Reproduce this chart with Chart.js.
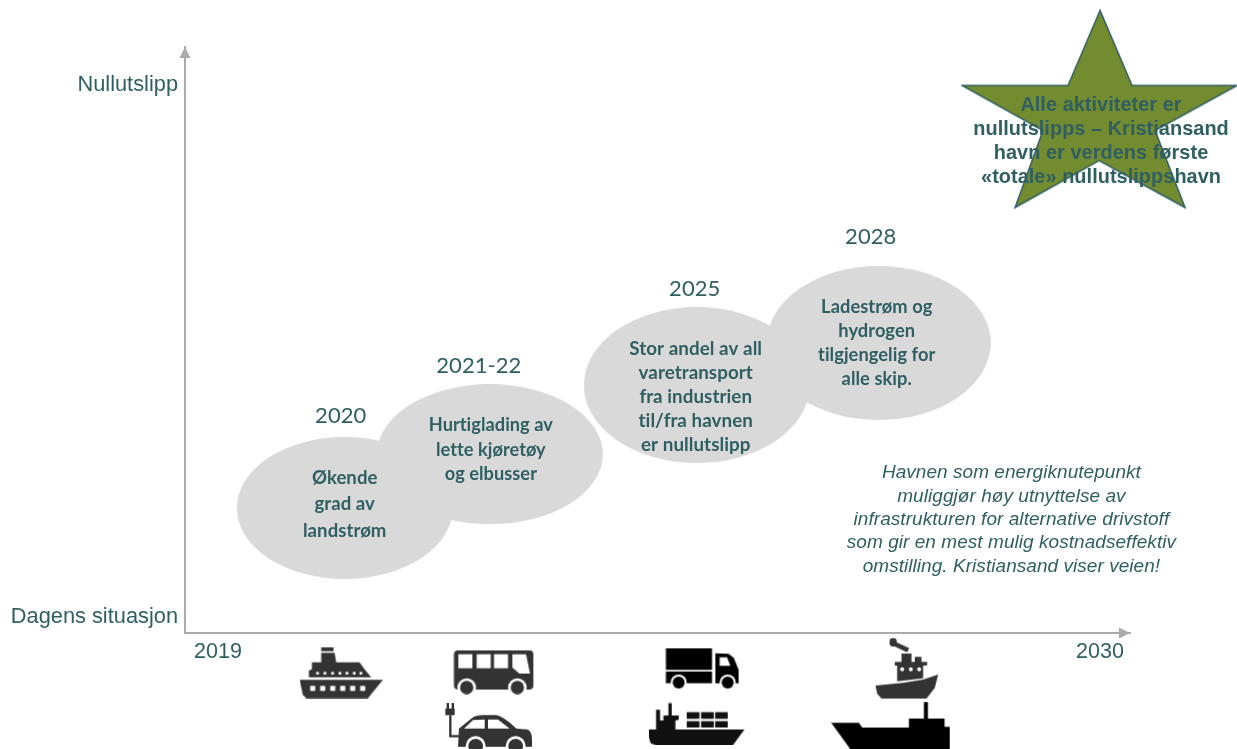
<!DOCTYPE html>
<html>
<head>
<meta charset="utf-8">
<title>Nullutslipp</title>
<script src="https://cdn.jsdelivr.net/npm/chart.js@4"></script>
<style>
  html, body { margin: 0; padding: 0; background: #fff; }
  canvas { display: block; }
</style>
</head>
<body>
<canvas id="roadmap" width="1237" height="749"></canvas>
<script>
// axis values
const tickYears = [2019, 2030];
const tickLevels = [0, 100];
const levelNames = ['Dagens situasjon', 'Nullutslipp'];

// the four steps on the way
const phaseNames = ['2020', '2021-22', '2025', '2028'];
const phaseYears = [2020.58, 2022.39, 2024.97, 2027.24];
const phaseLevels = [20.5, 30.6, 43.6, 51.5];
const phaseTexts = [
  ['Økende', 'grad av', 'landstrøm'],
  ['Hurtiglading av', 'lette kjøretøy', 'og elbusser'],
  ['Stor andel av all', 'varetransport', 'fra industrien', 'til/fra havnen', 'er nullutslipp'],
  ['Ladestrøm og', 'hydrogen', 'tilgjengelig for', 'alle skip.']
];

// the goal star
const goalYears = [2030];
const goalLevels = [95.4];
const goalText = ['Alle aktiviteter er', 'nullutslipps – Kristiansand', 'havn er verdens første', '«totale» nullutslippshavn'];

const noteText = [
  'Havnen som energiknutepunkt',
  'muliggjør høy utnyttelse av',
  'infrastrukturen for alternative drivstoff',
  'som gir en mest mulig kostnadseffektiv',
  'omstilling. Kristiansand viser veien!'
];

// vehicles under the time axis
const iconNames = ['ferry', 'bus', 'car', 'truck', 'container', 'tug', 'tanker'];
const iconYears = [2020.54, 2022.44, 2022.36, 2025.04, 2024.97, 2027.59, 2027.39];
const iconLevels = [-10.43, -10.34, -21.1, -9.68, -20.1, -9.68, -20.3];

const TEAL = '#2f5f62';
const GREY = '#ababab';

function offscreen(w, h) {
  const c = document.createElement('canvas');
  c.width = Math.round(w);
  c.height = Math.round(h);
  return c;
}

function ellipseStyle(rx, ry) {
  const c = offscreen(rx * 2, ry * 2);
  const g = c.getContext('2d');
  g.fillStyle = '#d9d9d9';
  g.beginPath();
  g.ellipse(rx, ry, rx, ry, 0, 0, Math.PI * 2);
  g.fill();
  return c;
}

function starStyle() {
  const c = offscreen(278, 200);
  const g = c.getContext('2d');
  const pts = [[139, 1], [107, 76], [1, 76], [82, 121], [54, 198], [138, 151], [224, 198], [194, 121], [276, 76], [171, 76]];
  g.beginPath();
  pts.forEach((p, i) => i ? g.lineTo(p[0], p[1]) : g.moveTo(p[0], p[1]));
  g.closePath();
  g.fillStyle = '#738c2f';
  g.fill();
  g.lineWidth = 1.5;
  g.strokeStyle = TEAL;
  g.stroke();
  return c;
}

function poly(g, pts, color) {
  g.fillStyle = color;
  g.beginPath();
  pts.forEach((p, i) => i ? g.lineTo(p[0], p[1]) : g.moveTo(p[0], p[1]));
  g.closePath();
  g.fill();
}
function wheel(g, x, y, r1, r2, color) {
  g.fillStyle = '#fff';
  g.beginPath(); g.arc(x, y, r1, 0, Math.PI * 2); g.fill();
  g.fillStyle = color;
  g.beginPath(); g.arc(x, y, r2, 0, Math.PI * 2); g.fill();
}

// icon shapes are sketched on a 3x grid, then shrunk
function iconStyle(x0, y0, x1, y1, draw) {
  const c = offscreen((x1 - x0) / 3, (y1 - y0) / 3);
  const g = c.getContext('2d');
  g.filter = 'blur(0.5px)';
  g.scale(1 / 3, 1 / 3);
  g.translate(-x0, -y0);
  draw(g);
  return c;
}

const ICONS = {
  ferry: iconStyle(60, 50, 311, 206, g => {
    const d = '#333';
    g.fillStyle = d;
    g.fillRect(125, 52, 37, 12);
    poly(g, [[125, 69], [165, 69], [170, 97], [240, 97], [255, 118], [275, 142], [88, 142], [88, 122], [97, 118], [97, 97], [125, 97]], d);
    poly(g, [[60, 150], [310, 150], [265, 205], [80, 205], [70, 195]], d);
    g.fillStyle = '#fff';
    [110, 132, 155, 177, 198, 220, 240].forEach(x => g.fillRect(x, 126, 8, 8));
    [92, 122, 152, 182, 212, 242].forEach(x => g.fillRect(x, 168, 15, 15));
  }),
  bus: iconStyle(520, 58, 763, 194, g => {
    const d = '#333';
    g.fillStyle = d;
    g.beginPath();
    g.roundRect(522, 60, 238, 118, 12);
    g.fill();
    g.fillStyle = '#fff';
    g.fillRect(535, 72, 42, 42);
    g.fillRect(590, 72, 42, 42);
    g.fillRect(642, 72, 42, 42);
    poly(g, [[697, 72], [738, 72], [750, 130], [718, 130], [697, 112]], '#fff');
    wheel(g, 560, 172, 28, 20, d);
    wheel(g, 712, 172, 28, 20, d);
  }),
  car: iconStyle(490, 218, 758, 378, g => {
    const d = '#333';
    g.strokeStyle = d;
    g.lineWidth = 7;
    g.beginPath();
    g.moveTo(512, 255);
    g.lineTo(512, 318);
    g.lineTo(545, 318);
    g.stroke();
    g.fillStyle = d;
    g.fillRect(497, 235, 28, 20);
    g.fillRect(501, 218, 7, 18);
    g.fillRect(516, 218, 7, 18);
    g.beginPath();
    g.moveTo(535, 350);
    g.lineTo(538, 295);
    g.lineTo(575, 265);
    g.quadraticCurveTo(590, 255, 610, 255);
    g.lineTo(650, 255);
    g.quadraticCurveTo(670, 258, 710, 295);
    g.lineTo(745, 298);
    g.quadraticCurveTo(757, 305, 757, 330);
    g.lineTo(757, 350);
    g.closePath();
    g.fill();
    poly(g, [[553, 295], [580, 270], [615, 268], [615, 295]], '#fff');
    poly(g, [[625, 268], [655, 268], [690, 295], [625, 295]], '#fff');
    wheel(g, 588, 348, 30, 22, d);
    wheel(g, 708, 348, 30, 22, d);
  }),
  truck: iconStyle(75, 53, 298, 180, g => {
    const d = '#000';
    g.fillStyle = d;
    g.fillRect(77, 55, 138, 65);
    g.fillRect(77, 125, 138, 35);
    poly(g, [[225, 70], [265, 72], [280, 84], [295, 120], [295, 160], [225, 160]], d);
    poly(g, [[238, 82], [260, 82], [270, 108], [238, 108]], '#fff');
    wheel(g, 115, 158, 24, 18, d);
    wheel(g, 262, 158, 24, 18, d);
  }),
  container: iconStyle(28, 216, 316, 346, g => {
    const d = '#111';
    poly(g, [[28, 297], [315, 297], [280, 345], [50, 345], [34, 338], [28, 320]], d);
    poly(g, [[50, 238], [62, 238], [62, 270], [72, 270], [72, 255], [87, 255], [87, 218], [97, 218], [97, 255], [118, 255], [118, 268], [108, 270], [108, 297], [50, 297]], d);
    g.fillStyle = d;
    [142, 185, 227].forEach(x => {
      g.fillRect(x, 245, 38, 20);
      g.fillRect(x, 272, 38, 19);
    });
  }),
  tug: iconStyle(705, 24, 898, 209, g => {
    const d = '#333';
    g.fillStyle = d;
    g.beginPath(); g.ellipse(760, 38, 11, 13, 0, 0, Math.PI * 2); g.fill();
    g.strokeStyle = d;
    g.lineWidth = 14;
    g.beginPath(); g.moveTo(762, 42); g.lineTo(805, 62); g.stroke();
    g.fillRect(785, 72, 30, 28);
    g.fillRect(825, 82, 20, 18);
    g.fillRect(765, 97, 97, 11);
    poly(g, [[772, 108], [850, 108], [850, 146], [772, 155]], d);
    poly(g, [[707, 168], [790, 160], [850, 150], [895, 135], [885, 175], [860, 207], [725, 207], [712, 192]], d);
    g.fillStyle = '#fff';
    [787, 813, 838].forEach(x => {
      g.beginPath(); g.arc(x, 119, 6, 0, Math.PI * 2); g.fill();
    });
  }),
  tanker: iconStyle(572, 214, 930, 356, g => {
    poly(g, [[572, 278], [655, 278], [665, 292], [805, 292], [805, 265], [850, 265], [850, 215], [862, 215], [862, 265], [912, 265], [912, 290], [928, 290], [928, 355], [628, 355]], '#000');
  })
};

function drawLines(ctx, lines, x, y, lineH, font, color) {
  ctx.font = font;
  ctx.fillStyle = color;
  ctx.textAlign = 'center';
  ctx.textBaseline = 'middle';
  ctx.letterSpacing = '0.05px'; // keeps Lato from joining "ti"
  lines.forEach((t, i) => ctx.fillText(t, x, y + i * lineH));
}

// offsets of the words from the centre of each ellipse
const phaseLabelOffset = [[-4, -92], [-11, -88], [-2, -96], [-8, -106]];
const phaseTextOffset = [[0, -30, 26.5, 18.6], [1, -29, 24.5, 18.2], [-1, -36, 24, 18.8], [-2, -36, 24, 18.3]];

const wordsPlugin = {
  id: 'words',
  afterDraw(chart) {
    const ctx = chart.ctx;
    const area = chart.chartArea;
    ctx.save();

    // arrow heads
    ctx.fillStyle = GREY;
    ctx.beginPath();
    ctx.moveTo(area.left, area.top);
    ctx.lineTo(area.left - 5.5, area.top + 11);
    ctx.lineTo(area.left + 5.5, area.top + 11);
    ctx.closePath();
    ctx.fill();
    ctx.beginPath();
    ctx.moveTo(area.right, area.bottom);
    ctx.lineTo(area.right - 11, area.bottom - 5.5);
    ctx.lineTo(area.right - 11, area.bottom + 5.5);
    ctx.closePath();
    ctx.fill();

    const phases = chart.getDatasetMeta(0).data;
    phases.forEach((pt, i) => {
      drawLines(ctx, [phaseNames[i]], pt.x + phaseLabelOffset[i][0], pt.y + phaseLabelOffset[i][1], 0, '22px Lato', TEAL);
      const o = phaseTextOffset[i];
      drawLines(ctx, phaseTexts[i], pt.x + o[0], pt.y + o[1], o[2], 'bold ' + o[3] + 'px Lato', TEAL);
    });

    const star = chart.getDatasetMeta(1).data[0];
    drawLines(ctx, goalText, star.x + 1, star.y - 4, 24, 'bold 19.9px "Liberation Sans"', TEAL);

    const sx = chart.scales.x.getPixelForValue(2028.895);
    const sy = chart.scales.y.getPixelForValue(27.05);
    drawLines(ctx, noteText, sx, sy, 23.3, 'italic 19px "Liberation Sans"', TEAL);
    ctx.restore();
  }
};

new Chart(document.getElementById('roadmap'), {
  type: 'scatter',
  data: {
    datasets: [
      {
        label: 'Trinn',
        data: phaseYears.map((x, i) => ({ x, y: phaseLevels[i] })),
        pointStyle: [ellipseStyle(108, 71), ellipseStyle(113, 70), ellipseStyle(113, 78), ellipseStyle(112, 77)],
        pointRadius: 120,
        clip: false
      },
      {
        label: 'Mål',
        data: goalYears.map((x, i) => ({ x, y: goalLevels[i] })),
        pointStyle: starStyle(),
        pointRadius: 150,
        clip: false
      },
      {
        label: 'Kjøretøy',
        data: iconYears.map((x, i) => ({ x, y: iconLevels[i] })),
        pointStyle: iconNames.map(n => ICONS[n]),
        pointRadius: 200,
        clip: false
      }
    ]
  },
  options: {
    responsive: false,
    animation: false,
    events: [],
    layout: { autoPadding: false, padding: { top: 47, right: 107, left: 0, bottom: 0 } },
    plugins: { legend: { display: false }, tooltip: { enabled: false } },
    scales: {
      x: {
        type: 'linear',
        min: 2018.588,
        max: 2030.374,
        afterFit: s => { s.height = 116; },
        afterBuildTicks: s => { s.ticks = tickYears.map(value => ({ value })); },
        grid: { display: false, drawTicks: false },
        border: { color: GREY, width: 2 },
        ticks: {
          color: TEAL, padding: 6, maxRotation: 0, autoSkip: false,
          font: { family: '"Liberation Sans"', size: 21.5 },
          callback: v => String(v)
        }
      },
      y: {
        type: 'linear',
        min: -3,
        max: 107.14,
        afterFit: s => { s.width = 185; },
        afterBuildTicks: s => { s.ticks = tickLevels.map(value => ({ value })); },
        grid: { display: false, drawTicks: false },
        border: { color: GREY, width: 2 },
        ticks: {
          color: TEAL, padding: 7, autoSkip: false,
          font: { family: '"Liberation Sans"', size: 21.8 },
          callback: v => levelNames[tickLevels.indexOf(v)]
        }
      }
    }
  },
  plugins: [wordsPlugin]
});
</script>
</body>
</html>
